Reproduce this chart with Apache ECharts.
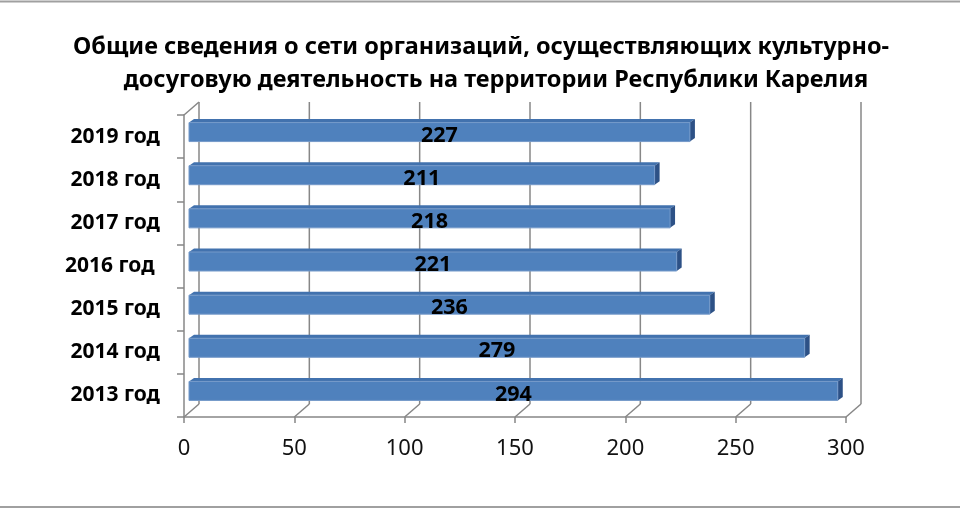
<!DOCTYPE html>
<html lang="ru">
<head>
    <meta charset="UTF-8">
    <title>Культурно-досуговые организации</title>
    <script src="https://cdn.jsdelivr.net/npm/echarts@6/dist/echarts.min.js"></script>
    <style>
        html, body { margin: 0; padding: 0; background: #fff; }
        #content { width: 960px; height: 510px; }
    </style>
</head>
<body>
<div id="content"></div>
<script>
    // данные
    var categories = ['2013 год', '2014 год', '2015 год', '2016 год ', '2017 год', '2018 год', '2019 год'];
    var values = [294, 279, 236, 221, 218, 211, 227];
    var xTicks = [0, 50, 100, 150, 200, 250, 300];

    var FONT = '"Noto Sans", "DejaVu Sans", sans-serif';
    var GRID_COLOR = '#878787';
    // смещение задней стенки и плоскости столбиков (псевдо-3D)
    var BACK_DX = 15, BACK_DY = -13;
    var BAR_DX = 5, BAR_DY = -4.5;

    var myChart = echarts.init(document.getElementById('content'));

    // сетка на задней стенке и диагонали пола
    function renderGrid(params, api) {
        var v = api.value(0);
        var cs = params.coordSys;
        var x = api.coord([v, 0])[0];
        var top = cs.y, bottom = cs.y + cs.height;
        var style = { stroke: GRID_COLOR, lineWidth: 1.5 };
        var children = [
            { type: 'line', shape: { x1: x + BACK_DX, y1: top + BACK_DY, x2: x + BACK_DX, y2: bottom + BACK_DY }, style: style },
            { type: 'line', shape: { x1: x, y1: bottom, x2: x + BACK_DX, y2: bottom + BACK_DY }, style: style }
        ];
        if (v === 0) {
            children.push({ type: 'line', shape: { x1: x, y1: top, x2: x + BACK_DX, y2: top + BACK_DY }, style: style });
        }
        return { type: 'group', children: children };
    }

    // столбик с верхней и торцевой гранью
    function renderBar(params, api) {
        var v = api.value(0), idx = api.value(1);
        var p0 = api.coord([0, idx]);
        var p1 = api.coord([v, idx]);
        var h = 19, ex = 5, ey = -3.5;
        var x0 = p0[0] + BAR_DX, x1 = p1[0] + BAR_DX;
        var yT = p0[1] + BAR_DY - h / 2, yB = yT + h;
        return {
            type: 'group',
            children: [
                { type: 'polygon', shape: { points: [[x0, yT], [x1, yT], [x1 + ex, yT + ey], [x0 + ex, yT + ey]] },
                  style: { fill: '#4272AE' } },
                { type: 'polygon', shape: { points: [[x1, yT], [x1 + ex, yT + ey], [x1 + ex, yB + ey], [x1, yB]] },
                  style: { fill: '#2D5186' } },
                { type: 'rect', shape: { x: x0, y: yT, width: x1 - x0, height: h },
                  style: { fill: '#4F81BD', stroke: '#7499C9', lineWidth: 1 } },
                { type: 'text', x: (x0 + x1) / 2, y: p0[1] - 1,
                  style: { text: String(v), font: 'bold 21.5px ' + FONT, fill: '#000', align: 'center', verticalAlign: 'middle' } }
            ]
        };
    }

    var option = {
        backgroundColor: '#fff',
        animation: false,
        title: [
            { text: 'Общие сведения о сети организаций, осуществляющих культурно-', left: 476, top: 30, textAlign: 'center',
              textStyle: { fontFamily: FONT, fontSize: 23.5, fontWeight: 'bold', color: '#000' } },
            { text: 'досуговую деятельность на территории Республики Карелия', left: 491, top: 63, textAlign: 'center',
              textStyle: { fontFamily: FONT, fontSize: 23.5, fontWeight: 'bold', color: '#000' } }
        ],
        graphic: [
            { type: 'line', shape: { x1: 0, y1: 1.5, x2: 960, y2: 1.5 }, style: { stroke: '#a0a0a0', lineWidth: 2 } },
            { type: 'line', shape: { x1: 0, y1: 507, x2: 960, y2: 507 }, style: { stroke: '#a0a0a0', lineWidth: 2 } }
        ],
        grid: { left: 184, right: 114, top: 115, bottom: 93 },
        xAxis: {
            type: 'value',
            min: 0,
            max: 300,
            interval: 50,
            axisLine: { show: true, lineStyle: { color: GRID_COLOR, width: 1.5 } },
            axisTick: { show: true, length: 6, lineStyle: { color: GRID_COLOR, width: 1.5 } },
            splitLine: { show: false },
            axisLabel: { margin: 21, fontFamily: FONT, fontSize: 22, color: '#111' }
        },
        yAxis: {
            type: 'category',
            data: categories,
            axisLine: { show: true, lineStyle: { color: GRID_COLOR, width: 1.5 } },
            axisTick: { show: true, length: 7, lineStyle: { color: GRID_COLOR, width: 1.5 } },
            axisLabel: { margin: 24, fontFamily: FONT, fontSize: 21, fontWeight: 'bold', color: '#000' }
        },
        series: [
            {
                type: 'custom',
                z: 1,
                silent: true,
                renderItem: renderGrid,
                encode: { x: 0 },
                data: xTicks.map(function (t) { return [t, 0]; })
            },
            {
                type: 'custom',
                z: 3,
                renderItem: renderBar,
                encode: { x: 0, y: 1 },
                data: values.map(function (v, i) { return [v, i]; })
            }
        ]
    };

    myChart.setOption(option);
</script>
</body>
</html>
